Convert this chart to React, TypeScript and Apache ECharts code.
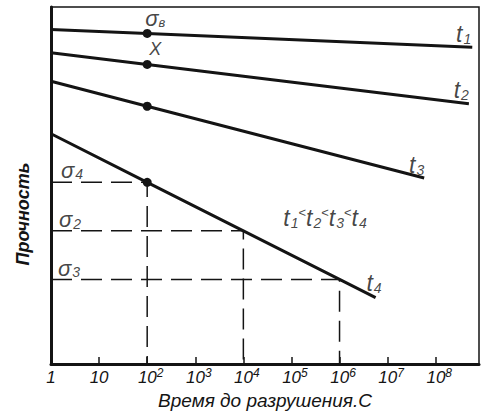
import React, { useEffect, useRef } from 'react';
import * as echarts from 'echarts';

const FONT = '"Liberation Sans", Arial, sans-serif';
const INK = '#141414';

// Time axis: exponents of ten (1, 10, 10^2 ... 10^8 seconds)
const decades = [0, 1, 2, 3, 4, 5, 6, 7, 8];

// Strength vs. log10(time to failure) for four temperatures
const t1Line = [[0, 93.7], [2, 92.6], [8.76, 88.7]];
const t2Line = [[0, 87.2], [2, 83.9], [8.69, 72.9]];
const t3Line = [[0, 79.2], [2, 72.2], [7.76, 52.1]];
const t4Line = [[0, 64.5], [2, 50.9], [4, 37.3], [6, 23.7], [6.75, 18.6]];
const curveIndices = ['1', '2', '3', '4'];

// Time at which the curves are compared (10^2 s)
const markedDecade = 2;

// Strength levels at 10^2, 10^4 and 10^6 s
const sigmaIndices = ['4', '2', '3'];
const sigmaDecades = [2, 4, 6];

const curves = [t1Line, t2Line, t3Line, t4Line];

const valueAt = (line: number[][], x: number) => {
  const p = line.find((q) => q[0] === x);
  return p ? p[1] : 0;
};

const rich = {
  t: { fontFamily: FONT, fontStyle: 'italic', fontSize: 23, lineHeight: 24, color: INK },
  n: { fontFamily: FONT, fontStyle: 'italic', fontSize: 14, lineHeight: 13, verticalAlign: 'bottom', padding: [0, 0, 0, 1], color: INK },
  g: { fontFamily: FONT, fontStyle: 'italic', fontSize: 22, lineHeight: 22, color: INK },
  m: { fontFamily: FONT, fontStyle: 'italic', fontSize: 13, lineHeight: 13, verticalAlign: 'bottom', color: INK },
  lt: { fontFamily: FONT, fontSize: 13, lineHeight: 12, verticalAlign: 'top', color: INK },
  x: { fontFamily: FONT, fontStyle: 'italic', fontSize: 18, lineHeight: 18, color: INK },
};

export default function App() {
  const ref = useRef<HTMLDivElement>(null);

  useEffect(() => {
    if (!ref.current) return;
    const chart = echarts.init(ref.current, null, { renderer: 'svg' });

    const curveOffsets = [[-1, -1], [0, -2], [0, -1], [6, -3]];

    const annotations: any[] = [];
    curves.forEach((line, i) => {
      annotations.push({
        value: line[line.length - 1],
        label: {
          formatter: `{t|t}{n|${curveIndices[i]}}`,
          align: 'right',
          verticalAlign: 'bottom',
          offset: curveOffsets[i],
        },
      });
    });
    annotations.push({
      value: [markedDecade, valueAt(t1Line, markedDecade)],
      label: { formatter: '{g|σ}{m|в}', align: 'left', verticalAlign: 'bottom', offset: [-2, -4] },
    });
    annotations.push({
      value: [markedDecade, valueAt(t2Line, markedDecade)],
      label: { formatter: '{x|X}', align: 'center', verticalAlign: 'bottom', offset: [8, -6] },
    });
    const sigmaOffsets = [[10, -1], [8, 0], [7, 0]];
    sigmaIndices.forEach((s, i) => {
      annotations.push({
        value: [0, valueAt(t4Line, sigmaDecades[i])],
        label: { formatter: `{g|σ}{n|${s}}`, align: 'left', verticalAlign: 'bottom', offset: sigmaOffsets[i] },
      });
    });
    annotations.push({
      value: [4.83, 37.5],
      label: {
        formatter: curveIndices.map((c) => `{t|t}{n|${c}}`).join('{lt|<}'),
        align: 'left',
        verticalAlign: 'bottom',
        offset: [0, 0],
      },
    });

    const dashed = sigmaDecades.map((d) => {
      const y = valueAt(t4Line, d);
      return {
        type: 'line',
        data: [[0, y], [d, y], [d, 0]],
        symbol: 'none',
        silent: true,
        z: 1,
        lineStyle: { color: INK, width: 1.5, type: [21, 9] },
      };
    });

    const solid = curves.map((line) => ({
      type: 'line',
      data: line,
      symbol: 'circle',
      symbolSize: (v: number[]) => (v[0] === markedDecade ? 9 : 0),
      showSymbol: true,
      silent: true,
      z: 3,
      itemStyle: { color: INK },
      lineStyle: { color: INK, width: 3 },
    }));

    chart.setOption({
      animation: false,
      backgroundColor: '#ffffff',
      grid: {
        left: 51,
        right: 11,
        top: 7,
        bottom: 56,
        show: true,
        borderColor: INK,
        borderWidth: 1.5,
        backgroundColor: 'transparent',
      },
      xAxis: {
        type: 'value',
        min: 0,
        max: 8.9,
        interval: 1,
        name: 'Время до разрушения.С',
        nameLocation: 'middle',
        nameGap: 24,
        nameTextStyle: { fontFamily: FONT, fontStyle: 'italic', fontSize: 19, color: INK },
        axisLine: { show: true, lineStyle: { color: INK, width: 3 } },
        axisTick: { show: true, inside: true, length: 7, lineStyle: { color: INK, width: 1.5 } },
        splitLine: { show: false },
        axisLabel: {
          margin: 3,
          showMaxLabel: false,
          formatter: (v: number) => {
            if (!decades.includes(v)) return '';
            if (v === 0) return '{b|1}';
            if (v === 1) return '{b|10}';
            return `{p|}{b|10}{s|${v}}`;
          },
          rich: {
            b: { fontFamily: FONT, fontStyle: 'italic', fontSize: 17, lineHeight: 21, color: INK },
            s: { fontFamily: FONT, fontStyle: 'italic', fontSize: 12, lineHeight: 12, verticalAlign: 'top', color: INK },
            p: { width: 7 },
          },
        },
      },
      yAxis: {
        type: 'value',
        min: 0,
        max: 100,
        axisLine: { show: true, lineStyle: { color: INK, width: 3 } },
        axisTick: { show: false },
        axisLabel: { show: false },
        splitLine: { show: false },
      },
      graphic: [
        {
          type: 'text',
          x: 22.5,
          y: 214,
          rotation: Math.PI / 2,
          style: {
            text: 'Прочность',
            fontFamily: FONT,
            fontStyle: 'italic',
            fontWeight: 'bold',
            fontSize: 18,
            fill: INK,
            align: 'center',
            verticalAlign: 'middle',
          },
        },
      ],
      series: [
        ...dashed,
        ...solid,
        {
          type: 'scatter',
          data: annotations,
          symbolSize: 1,
          silent: true,
          z: 5,
          itemStyle: { color: 'transparent' },
          label: { show: true, position: 'inside', rich },
        },
      ],
    });

    return () => chart.dispose();
  }, []);

  return (
    <div
      ref={ref}
      style={{ position: 'absolute', left: 0, top: 0, width: 490, height: 420, background: '#fff' }}
    />
  );
}
